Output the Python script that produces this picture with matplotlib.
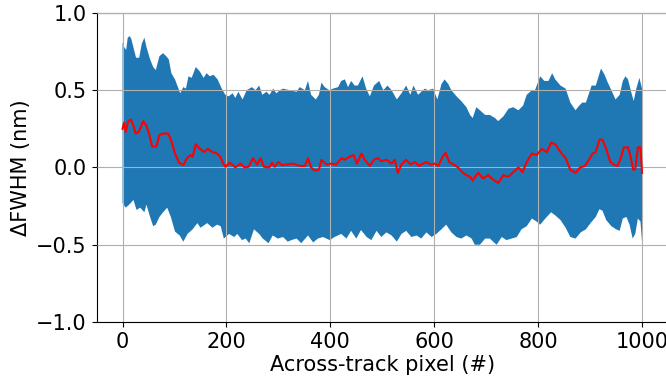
import numpy as np
import matplotlib
matplotlib.use("Agg")
import matplotlib.pyplot as plt

# upper envelope of the band (x, dFWHM)
upper_x = [0, 3, 7, 10, 14, 17, 26, 32, 37, 42, 46, 53, 59, 64, 71, 78, 84, 89, 94, 101,
           111, 117, 122, 127, 133, 141, 149, 156, 162, 168, 175, 183, 191, 198, 204, 212,
           217, 223, 231, 239, 249, 256, 263, 269, 277, 283, 290, 296, 303, 309, 322, 335,
           341, 351, 357, 363, 372, 378, 383, 389, 398, 405, 415, 421, 428, 434, 440, 447,
           453, 462, 469, 476, 484, 494, 502, 510, 518, 528, 537, 546, 554, 560, 569, 575,
           582, 588, 598, 606, 614, 620, 627, 633, 643, 652, 662, 669, 674, 681, 688, 698,
           707, 717, 723, 733, 743, 752, 762, 771, 778, 788, 794, 804, 812, 820, 827, 833,
           843, 853, 862, 872, 879, 885, 892, 896, 903, 911, 921, 928, 934, 941, 949, 957,
           963, 968, 973, 979, 984, 989, 995, 1000]
upper = [0.81, 0.78, 0.76, 0.84, 0.85, 0.83, 0.71, 0.71, 0.80, 0.84, 0.78, 0.70, 0.65, 0.63,
         0.72, 0.74, 0.72, 0.70, 0.61, 0.57, 0.48, 0.52, 0.51, 0.59, 0.58, 0.65, 0.62, 0.58,
         0.61, 0.59, 0.60, 0.57, 0.51, 0.47, 0.46, 0.48, 0.45, 0.49, 0.44, 0.50, 0.52, 0.50,
         0.53, 0.47, 0.49, 0.47, 0.51, 0.48, 0.50, 0.51, 0.50, 0.49, 0.52, 0.50, 0.56, 0.47,
         0.44, 0.47, 0.55, 0.52, 0.50, 0.51, 0.52, 0.56, 0.57, 0.52, 0.56, 0.53, 0.53, 0.59,
         0.51, 0.46, 0.53, 0.56, 0.50, 0.53, 0.50, 0.44, 0.48, 0.53, 0.47, 0.53, 0.47, 0.49,
         0.51, 0.50, 0.51, 0.44, 0.54, 0.57, 0.54, 0.50, 0.46, 0.43, 0.39, 0.34, 0.32, 0.39,
         0.37, 0.34, 0.34, 0.32, 0.30, 0.33, 0.38, 0.39, 0.37, 0.40, 0.47, 0.50, 0.50, 0.59,
         0.56, 0.56, 0.61, 0.57, 0.53, 0.51, 0.42, 0.37, 0.40, 0.42, 0.42, 0.46, 0.53, 0.53,
         0.64, 0.60, 0.55, 0.50, 0.44, 0.47, 0.56, 0.59, 0.57, 0.49, 0.43, 0.51, 0.58, 0.51]

# lower envelope of the band
lower_x = [0, 6, 13, 21, 27, 34, 42, 46, 53, 59, 64, 71, 78, 86, 93, 101, 110, 117, 125, 135,
           144, 150, 163, 173, 182, 189, 195, 205, 215, 221, 230, 237, 244, 253, 263, 270,
           281, 289, 299, 309, 318, 325, 335, 344, 357, 367, 376, 386, 399, 408, 421, 431,
           440, 450, 459, 470, 479, 489, 498, 508, 518, 528, 537, 546, 556, 566, 575, 585,
           595, 604, 614, 623, 633, 643, 652, 662, 672, 678, 688, 698, 707, 720, 730, 739,
           749, 759, 768, 778, 788, 797, 804, 814, 825, 833, 843, 853, 862, 872, 882, 892,
           901, 911, 918, 924, 931, 941, 950, 957, 963, 970, 976, 982, 987, 992, 997, 1000]
lower = [-0.23, -0.26, -0.24, -0.21, -0.275, -0.26, -0.29, -0.24, -0.32, -0.38, -0.37, -0.32,
         -0.29, -0.26, -0.32, -0.415, -0.44, -0.48, -0.43, -0.40, -0.36, -0.39, -0.36, -0.39,
         -0.37, -0.38, -0.46, -0.43, -0.45, -0.43, -0.47, -0.46, -0.49, -0.40, -0.43, -0.46,
         -0.49, -0.44, -0.46, -0.45, -0.48, -0.47, -0.46, -0.49, -0.44, -0.485, -0.46, -0.45,
         -0.47, -0.45, -0.43, -0.46, -0.41, -0.46, -0.405, -0.45, -0.47, -0.41, -0.45, -0.42,
         -0.44, -0.48, -0.43, -0.41, -0.45, -0.44, -0.46, -0.42, -0.45, -0.43, -0.40, -0.37,
         -0.42, -0.45, -0.46, -0.44, -0.46, -0.50, -0.50, -0.46, -0.46, -0.50, -0.45, -0.47,
         -0.46, -0.45, -0.40, -0.38, -0.33, -0.35, -0.37, -0.33, -0.29, -0.31, -0.34, -0.39,
         -0.45, -0.46, -0.42, -0.40, -0.36, -0.32, -0.27, -0.28, -0.34, -0.38, -0.40, -0.41,
         -0.33, -0.32, -0.37, -0.46, -0.43, -0.33, -0.35, -0.48]

# mean dFWHM (red line)
mean_x = [0, 3, 6, 11, 16, 21, 25, 31, 40, 46, 51, 57, 65, 71, 79, 88, 94, 101, 109, 117,
          124, 131, 135, 141, 149, 158, 164, 173, 182, 188, 193, 198, 206, 212, 217, 227,
          235, 243, 251, 259, 266, 272, 282, 288, 293, 300, 307, 317, 328, 341, 351, 357,
          363, 370, 378, 383, 392, 402, 412, 421, 428, 437, 445, 451, 460, 466, 476, 484,
          492, 498, 508, 518, 524, 530, 537, 546, 554, 563, 571, 578, 585, 593, 601, 608,
          616, 622, 629, 637, 646, 655, 662, 669, 674, 681, 685, 694, 704, 714, 723, 733,
          743, 752, 762, 770, 778, 788, 797, 807, 817, 825, 833, 843, 853, 862, 872, 881,
          890, 898, 905, 911, 918, 924, 931, 939, 947, 953, 960, 965, 973, 978, 983, 987,
          992, 997, 1000]
mean = [0.25, 0.29, 0.23, 0.30, 0.31, 0.27, 0.22, 0.23, 0.30, 0.27, 0.22, 0.135, 0.135, 0.21,
        0.22, 0.22, 0.17, 0.09, 0.03, 0.016, 0.06, 0.08, 0.07, 0.15, 0.12, 0.10, 0.12, 0.10,
        0.09, 0.07, 0.03, 0.005, 0.03, 0.017, 0.0, 0.025, 0.0, 0.005, 0.06, 0.02, 0.06, 0.005,
        0.0, 0.03, 0.005, 0.035, 0.015, 0.02, 0.025, 0.01, 0.01, 0.06, 0.0, -0.02, -0.015,
        0.05, 0.02, 0.025, 0.02, 0.06, 0.05, 0.07, 0.08, 0.025, 0.09, 0.05, 0.01, 0.05, 0.06,
        0.04, 0.05, 0.025, 0.05, -0.035, 0.02, 0.05, 0.02, 0.035, 0.01, 0.025, 0.035, 0.02,
        0.025, 0.01, 0.07, 0.095, 0.035, 0.02, 0.0, -0.035, -0.05, -0.06, -0.085, -0.05,
        -0.035, -0.07, -0.05, -0.08, -0.10, -0.05, -0.06, -0.03, 0.0, -0.03, 0.035, 0.09,
        0.08, 0.12, 0.10, 0.16, 0.15, 0.10, 0.06, -0.015, -0.035, 0.0, 0.01, 0.05, 0.09, 0.10,
        0.18, 0.18, 0.12, 0.035, 0.015, 0.01, 0.07, 0.13, 0.13, 0.07, -0.015, -0.01, 0.13,
        0.13, -0.035]

x_ticks = [0, 200, 400, 600, 800, 1000]
y_ticks = [-1.0, -0.5, 0.0, 0.5, 1.0]

fig = plt.figure(figsize=(6.66, 3.76), dpi=100)
ax = fig.add_axes([0.145, 0.1436, 0.858, 0.822])

# band: upper edge left->right, lower edge right->left
band_x = np.concatenate([upper_x, lower_x[::-1]])
band_y = np.concatenate([upper, lower[::-1]])
ax.fill(band_x, band_y, color='C0', linewidth=0, zorder=1)
ax.plot(mean_x, mean, color='r', linewidth=1.5, zorder=3)

ax.set_xlim(-50, 1050)
ax.set_ylim(-1.0, 1.0)
ax.set_xticks(x_ticks)
ax.set_yticks(y_ticks)
ax.grid(True, color='#b0b0b0', linewidth=0.8, zorder=2)
ax.set_axisbelow(False)
ax.tick_params(labelsize=15)
ax.set_xlabel("Across-track pixel (#)", fontsize=15, labelpad=2)
ax.set_ylabel("\u0394FWHM (nm)", fontsize=15)

fig.savefig("out.png", dpi=100)
